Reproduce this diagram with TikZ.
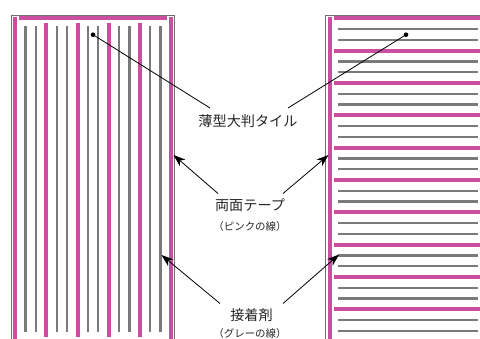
\documentclass[tikz,border=0pt]{standalone}
\usepackage{fontspec}
\newfontfamily\jp{Noto Sans CJK JP}
\usetikzlibrary{arrows.meta}
\definecolor{tapepink}{HTML}{C8509E}
\definecolor{gluegray}{HTML}{7A7A7A}
\definecolor{framegray}{HTML}{6E6E6E}
\begin{document}
\begin{tikzpicture}[x=1bp,y=-1bp,
  tapeline/.style={tapepink,line width=4bp},
  glueline/.style={gluegray,line width=2.4bp},
  frameline/.style={framegray,line width=1bp},
  lbl/.style={font=\jp\fontsize{14.2}{16}\selectfont,text=black!85,inner sep=0pt},
  sublbl/.style={font=\jp\fontsize{10.5}{12}\selectfont,text=black!85,inner sep=0pt},
  pointer/.style={black,line width=0.8bp,-{Stealth[length=12bp,width=8.5bp,inset=3.5bp]}},
  leader/.style={black,line width=0.8bp}]
\useasboundingbox (0,0) rectangle (480,338);
\clip (0,0) rectangle (480,338);
% left panel
\draw[frameline] (11.7,345) -- (11.7,15) -- (174.3,15) -- (174.3,345);
\draw[tapeline] (15.3,16.5) -- (15.3,345);
\draw[tapeline] (170.5,16.5) -- (170.5,345);
\draw[tapeline] (19,18.3) -- (167,18.3);
\foreach \k in {1,...,14}{
  \pgfmathsetmacro\xx{15.3+10.37*\k}
  \pgfmathtruncatemacro\rr{mod(\k,3)}
  \ifnum\rr=0
    \draw[tapeline] (\xx,22.7) -- (\xx,336.7);
  \else
    \draw[glueline] (\xx,26) -- (\xx,331.7);
  \fi
}
% right panel
\draw[frameline] (325.8,345) -- (325.8,15) -- (485,15);
\draw[tapeline] (330.3,16.5) -- (330.3,345);
\draw[tapeline] (333.5,18.3) -- (485,18.3);
\foreach \k in {1,...,30}{
  \pgfmathsetmacro\yy{18.3+10.78*\k}
  \pgfmathtruncatemacro\rr{mod(\k,3)}
  \ifnum\rr=0
    \draw[tapeline] (334.3,\yy) -- (485,\yy);
  \else
    \draw[glueline] (338.3,\yy) -- (478.3,\yy);
  \fi
}
% labels
\node[lbl] (tile) at (248,121.5) {薄型大判タイル};
\node[lbl] (tape) at (250,205) {両面テープ};
\node[sublbl] (tapesub) at (250,226.5) {（ピンクの線）};
\node[lbl] (glue) at (251.5,315) {接着剤};
\node[sublbl] (gluesub) at (250,333.5) {（グレーの線）};
% connector ends
\coordinate (dotL) at (93,34.7);
\coordinate (dotR) at (406,34.7);
\coordinate (tileL) at (210,108);
\coordinate (tileR) at (288,108);
\coordinate (tapeL) at (218,193.5);
\coordinate (tapeR) at (283,193.5);
\coordinate (tipA) at (173.5,155);
\coordinate (tipB) at (328.5,155);
\coordinate (glueL) at (220,303.5);
\coordinate (glueR) at (283,303.5);
\coordinate (tipC) at (161.5,255);
\coordinate (tipD) at (339,254.5);
\fill (dotL) circle (2.3);
\fill (dotR) circle (2.3);
\draw[leader] (dotL) -- (tileL);
\draw[leader] (dotR) -- (tileR);
\draw[pointer] (tapeL) -- (tipA);
\draw[pointer] (tapeR) -- (tipB);
\draw[pointer] (glueL) -- (tipC);
\draw[pointer] (glueR) -- (tipD);
\end{tikzpicture}
\end{document}
